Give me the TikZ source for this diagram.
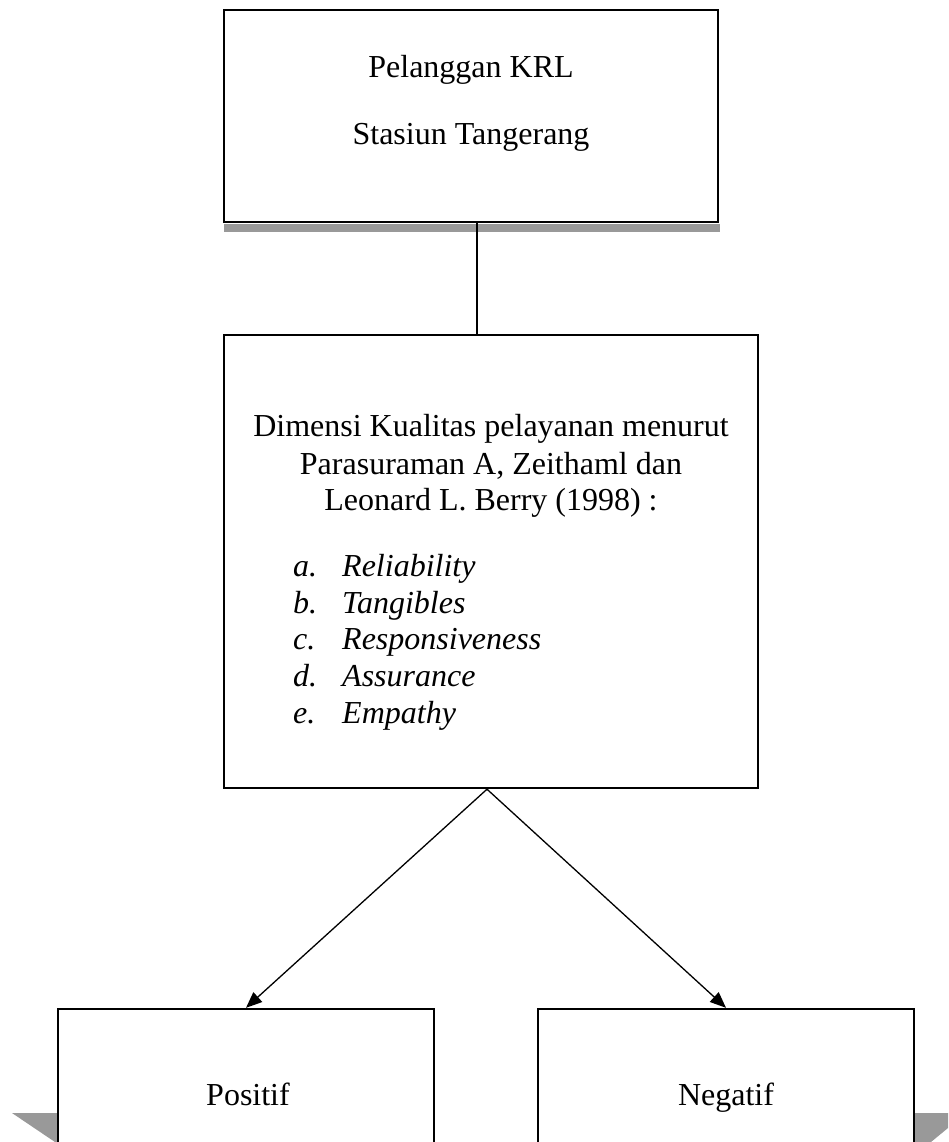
\documentclass[tikz,border=0pt]{standalone}
\usepackage{fontspec}
\setmainfont{Liberation Serif}
\usetikzlibrary{arrows.meta}
\begin{document}
\begin{tikzpicture}[x=1pt,y=-1pt,
  box/.style={draw, line width=2.4pt, inner sep=0pt},
  txt/.style={anchor=base, inner sep=0pt, font=\fontsize{32}{37}\selectfont},
  itm/.style={anchor=base west, inner sep=0pt, font=\fontsize{32}{37}\selectfont\itshape},
  conn/.style={line width=1.3pt},
  shade/.style={fill=black!40, draw=none},
  tip/.style={-{Triangle[length=16pt,width=13pt]}}
]
\useasboundingbox (0,0) rectangle (948,1142);
\clip (0,0) rectangle (948,1142);
\fill[white] (0,0) rectangle (948,1142);
% shadows
\fill[shade] (224,223.5) rectangle (720,232);
\fill[shade] (12,1113) -- (58,1113) -- (58,1142) -- (55,1142) -- cycle;
\fill[shade] (914,1113) -- (948,1113) -- (948,1128) -- (931,1142) -- (914,1142) -- cycle;
% top box
\node[box, minimum width=494, minimum height=212] (top) at (471,116) {};
\node[txt] (t1) at (471,78) {Pelanggan KRL};
\node[txt] (t2) at (471,145) {Stasiun Tangerang};
% middle box
\node[box, minimum width=534, minimum height=453] (mid) at (491,561.5) {};
\node[txt] (m1) at (491,436) {Dimensi Kualitas pelayanan menurut};
\node[txt] (m2) at (491,474) {Parasuraman A, Zeithaml dan};
\node[txt] (m3) at (491,510) {Leonard L. Berry (1998) :};
\node[itm] (la) at (293,576) {a.};
\node[itm] (ia) at (342,576) {Reliability};
\node[itm] (lb) at (293,613) {b.};
\node[itm] (ib) at (342,613) {Tangibles};
\node[itm] (lc) at (293,649) {c.};
\node[itm] (ic) at (342,649) {Responsiveness};
\node[itm] (ld) at (293,686) {d.};
\node[itm] (id) at (342,686) {Assurance};
\node[itm] (le) at (293,723) {e.};
\node[itm] (ie) at (342,723) {Empathy};
% bottom boxes
\node[box, minimum width=376, minimum height=160] (pos) at (246,1089) {};
\node[txt] (pt) at (248,1105) {Positif};
\node[box, minimum width=376, minimum height=160] (neg) at (726,1089) {};
\node[txt] (nt) at (726,1105) {Negatif};
% connectors
\draw[conn] ([xshift=6pt]top.south) -- ([xshift=6pt]top.south |- mid.north);
\draw[conn,tip] ([xshift=-4pt]mid.south) -- (pos.north);
\draw[conn,tip] ([xshift=-4pt]mid.south) -- (neg.north);
\end{tikzpicture}
\end{document}
